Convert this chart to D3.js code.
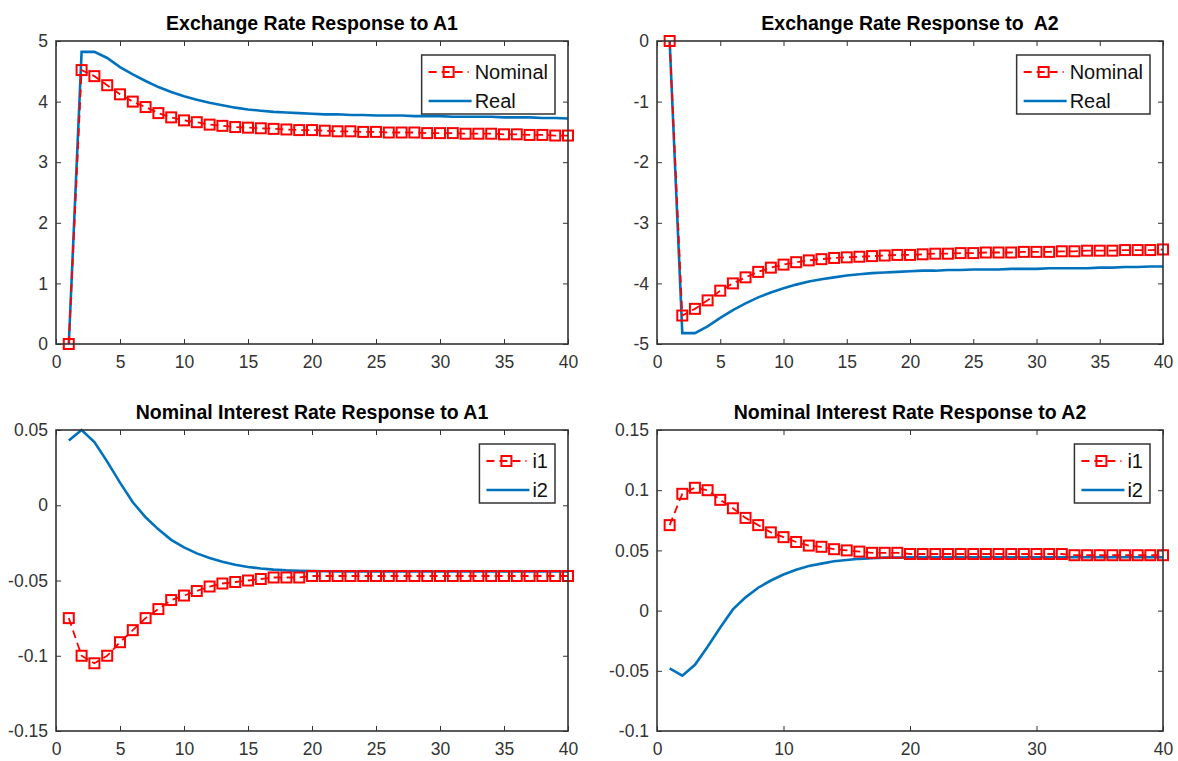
<!DOCTYPE html>
<html>
<head>
<meta charset="utf-8">
<script src="https://cdn.jsdelivr.net/npm/d3@7"></script>
<style>
  body { margin: 0; background: #fff; }
  text { font-family: "Liberation Sans", Arial, Helvetica, sans-serif; }
  .tick text { fill: #333; font-size: 17.5px; }
  .tick line { stroke: #333; }
  .title { font-weight: bold; font-size: 19.5px; fill: #000; white-space: pre; }
  .legend text { font-size: 20px; fill: #111; }
</style>
</head>
<body>
<script>
// periods 1..40
var periods = d3.range(1, 41);

// exchange rate response to A1
var erA1Nominal = [0, 4.52, 4.42, 4.27, 4.12, 4.00, 3.91, 3.81, 3.74, 3.69,
  3.66, 3.62, 3.60, 3.58, 3.57, 3.56, 3.55, 3.54, 3.53, 3.53,
  3.52, 3.51, 3.51, 3.50, 3.50, 3.49, 3.49, 3.49, 3.48, 3.48,
  3.48, 3.47, 3.47, 3.47, 3.46, 3.46, 3.45, 3.45, 3.44, 3.44];
var erA1Real = [0, 4.82, 4.82, 4.72, 4.57, 4.45, 4.34, 4.24, 4.16, 4.09,
  4.03, 3.98, 3.94, 3.90, 3.87, 3.85, 3.83, 3.82, 3.81, 3.80,
  3.79, 3.79, 3.78, 3.78, 3.77, 3.77, 3.77, 3.76, 3.76, 3.76,
  3.75, 3.75, 3.75, 3.75, 3.74, 3.74, 3.74, 3.73, 3.73, 3.72];

// exchange rate response to A2
var erA2Nominal = [0, -4.53, -4.42, -4.28, -4.12, -4.00, -3.90, -3.81, -3.74, -3.69,
  -3.65, -3.62, -3.60, -3.58, -3.57, -3.56, -3.55, -3.54, -3.53, -3.53,
  -3.52, -3.51, -3.51, -3.50, -3.50, -3.49, -3.49, -3.49, -3.48, -3.48,
  -3.48, -3.47, -3.47, -3.46, -3.46, -3.46, -3.45, -3.45, -3.45, -3.44];
var erA2Real = [0, -4.82, -4.82, -4.71, -4.57, -4.44, -4.33, -4.23, -4.15, -4.08,
  -4.02, -3.97, -3.93, -3.90, -3.87, -3.85, -3.83, -3.82, -3.81, -3.80,
  -3.79, -3.79, -3.78, -3.78, -3.77, -3.77, -3.77, -3.76, -3.76, -3.76,
  -3.75, -3.75, -3.75, -3.75, -3.74, -3.74, -3.73, -3.73, -3.72, -3.72];

// nominal interest rate response to A1
var irA1i1 = [-0.075, -0.100, -0.105, -0.100, -0.091, -0.083, -0.075, -0.069, -0.063, -0.060,
  -0.057, -0.054, -0.052, -0.051, -0.050, -0.049, -0.048, -0.048, -0.048, -0.047,
  -0.047, -0.047, -0.047, -0.047, -0.047, -0.047, -0.047, -0.047, -0.047, -0.047,
  -0.047, -0.047, -0.047, -0.047, -0.047, -0.047, -0.047, -0.047, -0.047, -0.047];
var irA1i2 = [0.043, 0.050, 0.042, 0.029, 0.015, 0.002, -0.008, -0.016, -0.023, -0.028,
  -0.032, -0.035, -0.0375, -0.0395, -0.041, -0.042, -0.0428, -0.0433, -0.0436, -0.0438,
  -0.0439, -0.044, -0.044, -0.044, -0.044, -0.044, -0.044, -0.044, -0.044, -0.044,
  -0.044, -0.044, -0.044, -0.044, -0.044, -0.044, -0.044, -0.044, -0.044, -0.044];

// nominal interest rate response to A2
var irA2i1 = [0.071, 0.097, 0.102, 0.100, 0.092, 0.085, 0.077, 0.071, 0.065, 0.061,
  0.057, 0.054, 0.053, 0.051, 0.050, 0.049, 0.048, 0.048, 0.048, 0.047,
  0.047, 0.047, 0.047, 0.047, 0.047, 0.047, 0.047, 0.047, 0.047, 0.047,
  0.047, 0.047, 0.046, 0.046, 0.046, 0.046, 0.046, 0.046, 0.046, 0.046];
var irA2i2 = [-0.048, -0.054, -0.045, -0.030, -0.014, 0.001, 0.011, 0.019, 0.025, 0.030,
  0.034, 0.037, 0.039, 0.041, 0.042, 0.043, 0.0435, 0.044, 0.044, 0.0442,
  0.0443, 0.0443, 0.0443, 0.0443, 0.0443, 0.0443, 0.0443, 0.0443, 0.0443, 0.0443,
  0.0443, 0.0443, 0.0443, 0.0443, 0.0443, 0.0443, 0.0443, 0.0443, 0.0443, 0.0443];

var xTicks5 = [0, 5, 10, 15, 20, 25, 30, 35, 40];
var xTicks10 = [0, 10, 20, 30, 40];
var yTicksA1 = [0, 1, 2, 3, 4, 5];
var yTicksA2 = [-5, -4, -3, -2, -1, 0];
var yTicksIrA1 = [-0.15, -0.1, -0.05, 0, 0.05];
var yTicksIrA2 = [-0.1, -0.05, 0, 0.05, 0.1, 0.15];

var red = "#ff0000", blue = "#0072bd";

var svg = d3.select("body").append("svg")
  .attr("width", 1178)
  .attr("height", 761);

function drawPanel(p) {
  var x = d3.scaleLinear().domain([0, 40]).range([p.left, p.right]);
  var y = d3.scaleLinear().domain(p.yDomain).range([p.bottom, p.top]);
  var g = svg.append("g");

  g.append("text").attr("class", "title")
    .attr("x", (p.left + p.right) / 2).attr("y", p.top - 11)
    .attr("text-anchor", "middle")
    .text(p.title);

  // lines
  var line = d3.line().x(function(d, i) { return x(periods[i]); }).y(function(d) { return y(d); });
  g.append("path").datum(p.s2)
    .attr("d", line).attr("fill", "none")
    .attr("stroke", blue).attr("stroke-width", 2.6);
  g.append("path").datum(p.s1)
    .attr("d", line).attr("fill", "none")
    .attr("stroke", red).attr("stroke-width", 1.8)
    .attr("stroke-dasharray", "8,5");
  g.selectAll("rect.mk").data(p.s1).enter().append("rect")
    .attr("class", "mk")
    .attr("x", function(d, i) { return x(periods[i]) - 5; })
    .attr("y", function(d) { return y(d) - 5; })
    .attr("width", 10).attr("height", 10)
    .attr("fill", "none").attr("stroke", red).attr("stroke-width", 2);

  // axes with inward ticks
  var fmt = function(d) { return String(d); };
  g.append("g").attr("transform", "translate(0," + p.bottom + ")")
    .call(d3.axisBottom(x).tickValues(p.xTicks).tickSize(-5).tickPadding(9).tickFormat(fmt))
    .call(function(a) { a.select(".domain").remove(); a.selectAll("text").attr("dy", "0.85em"); });
  g.append("g").attr("transform", "translate(0," + p.top + ")")
    .call(d3.axisTop(x).tickValues(p.xTicks).tickSize(-5).tickFormat(""))
    .call(function(a) { a.select(".domain").remove(); });
  g.append("g").attr("transform", "translate(" + p.left + ",0)")
    .call(d3.axisLeft(y).tickValues(p.yTicks).tickSize(-5).tickPadding(8).tickFormat(fmt))
    .call(function(a) { a.select(".domain").remove(); });
  g.append("g").attr("transform", "translate(" + p.right + ",0)")
    .call(d3.axisRight(y).tickValues(p.yTicks).tickSize(-5).tickFormat(""))
    .call(function(a) { a.select(".domain").remove(); });
  g.selectAll(".tick text").style("font-family", "Liberation Sans, Arial, sans-serif");

  g.append("rect")
    .attr("x", p.left).attr("y", p.top)
    .attr("width", p.right - p.left).attr("height", p.bottom - p.top)
    .attr("fill", "none").attr("stroke", "#333").attr("stroke-width", 1.6);

  // legend
  var lg = g.append("g").attr("class", "legend");
  var box = lg.append("rect").attr("fill", "#fff").attr("stroke", "#333").attr("stroke-width", 1.5);
  var rows = [p.names[0], p.names[1]];
  var maxW = 0;
  rows.forEach(function(name, k) {
    var ry = p.top + 31 + k * 29;
    var t = lg.append("text").attr("x", 0).attr("y", ry).attr("dy", "0.35em").text(name);
    maxW = Math.max(maxW, t.node().getComputedTextLength());
  });
  var boxW = 53 + maxW + 7;
  var bx = p.right - 13 - boxW;
  box.attr("x", bx).attr("y", p.top + 14).attr("width", boxW).attr("height", 59);
  lg.selectAll("text").attr("x", bx + 53);
  var ly1 = p.top + 31, ly2 = p.top + 60;
  lg.append("line").attr("x1", bx + 7).attr("x2", bx + 47).attr("y1", ly1).attr("y2", ly1)
    .attr("stroke", red).attr("stroke-width", 1.8).attr("stroke-dasharray", "8,5");
  lg.append("rect").attr("x", bx + 22).attr("y", ly1 - 5).attr("width", 10).attr("height", 10)
    .attr("fill", "none").attr("stroke", red).attr("stroke-width", 2);
  lg.append("line").attr("x1", bx + 7).attr("x2", bx + 50).attr("y1", ly2).attr("y2", ly2)
    .attr("stroke", blue).attr("stroke-width", 2.6);
}

drawPanel({ title: "Exchange Rate Response to A1", left: 56, right: 568, top: 41, bottom: 344,
  yDomain: [0, 5], xTicks: xTicks5, yTicks: yTicksA1, s1: erA1Nominal, s2: erA1Real, names: ["Nominal", "Real"] });
drawPanel({ title: "Exchange Rate Response to  A2", left: 657, right: 1163, top: 41, bottom: 344,
  yDomain: [-5, 0], xTicks: xTicks5, yTicks: yTicksA2, s1: erA2Nominal, s2: erA2Real, names: ["Nominal", "Real"] });
drawPanel({ title: "Nominal Interest Rate Response to A1", left: 56, right: 568, top: 430, bottom: 731,
  yDomain: [-0.15, 0.05], xTicks: xTicks5, yTicks: yTicksIrA1, s1: irA1i1, s2: irA1i2, names: ["i1", "i2"] });
drawPanel({ title: "Nominal Interest Rate Response to A2", left: 657, right: 1163, top: 430, bottom: 731,
  yDomain: [-0.1, 0.15], xTicks: xTicks10, yTicks: yTicksIrA2, s1: irA2i1, s2: irA2i2, names: ["i1", "i2"] });
</script>
</body>
</html>
